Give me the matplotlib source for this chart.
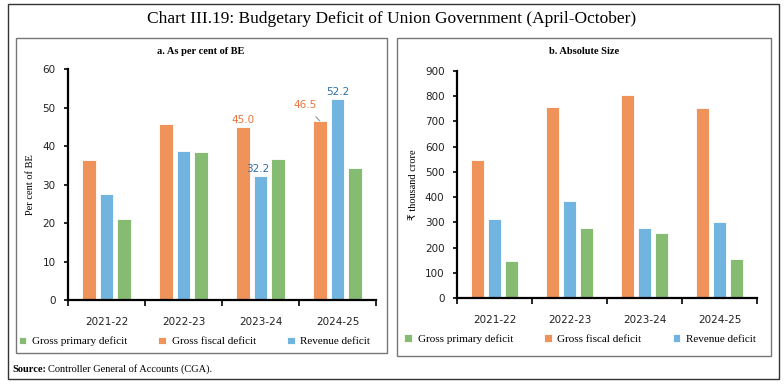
import numpy as np
import matplotlib.pyplot as plt
from matplotlib.patches import Rectangle

years = ['2021-22', '2022-23', '2023-24', '2024-25']

# a. per cent of BE
pct_fiscal = [36.3, 45.7, 45.0, 46.5]
pct_revenue = [27.5, 38.8, 32.2, 52.2]
pct_primary = [21.1, 38.5, 36.6, 34.3]

# b. absolute size (Rs thousand crore)
abs_fiscal = [547, 759, 805, 752]
abs_revenue = [314, 385, 279, 303]
abs_primary = [148, 277, 258, 154]

c_fiscal = '#F0935B'
c_revenue = '#72B4E0'
c_primary = '#86BC71'

serif = ['Liberation Serif', 'DejaVu Sans']

W, H = 784, 387
fig = plt.figure(figsize=(W / 100, H / 100), dpi=100)


def box(x0, y0, x1, y1, **kw):
    # pixel coords (top-left origin) -> figure rectangle
    fig.patches.append(Rectangle((x0 / W, 1 - y1 / H), (x1 - x0) / W, (y1 - y0) / H,
                                 transform=fig.transFigure, fill=False, **kw))


box(8, 4, 779, 379, edgecolor='#333333', lw=1.0)
box(16, 38, 387, 353, edgecolor='#777777', lw=1.0)
box(397, 38, 771, 356, edgecolor='#777777', lw=1.0)

fig.text(0.5, 1 - 19 / H, 'Chart III.19: Budgetary Deficit of Union Government (April-October)',
         ha='center', va='center', fontsize=12.5, family=serif)
fig.text(201 / W, 1 - 52 / H, 'a. As per cent of BE', ha='center', va='center',
         fontsize=7.5, fontweight='bold', family=serif)
fig.text(584 / W, 1 - 52 / H, 'b. Absolute Size', ha='center', va='center',
         fontsize=7.5, fontweight='bold', family=serif)
src = fig.text(12 / W, 1 - 369 / H, 'Source:', ha='left', va='center',
               fontsize=7.5, fontweight='bold', family=serif)
fig.canvas.draw()
bb = src.get_window_extent()
fig.text(bb.x1 / W + 2 / W, 1 - 369 / H, 'Controller General of Accounts (CGA).',
         ha='left', va='center', fontsize=7.5, family=serif)


def make_axes(rect, fiscal, revenue, primary, ymax, ystep, ylabel):
    ax = fig.add_axes(rect)
    x = np.arange(len(years))
    bw, off = 0.175, 0.225
    kw = dict(width=bw, edgecolor='white', linewidth=0.6)
    b_f = ax.bar(x - off, fiscal, color=c_fiscal, label='Gross fiscal deficit', **kw)
    b_r = ax.bar(x, revenue, color=c_revenue, label='Revenue deficit', **kw)
    b_p = ax.bar(x + off, primary, color=c_primary, label='Gross primary deficit', **kw)
    ax.set_xlim(-0.5, len(years) - 0.5)
    ax.set_ylim(0, ymax)
    ax.set_yticks(np.arange(0, ymax + 1, ystep))
    ax.set_xticks(np.arange(-0.5, len(years)), minor=False)
    ax.set_xticklabels([])
    ax.set_xticks(x, minor=True)
    ax.set_xticklabels(years, minor=True)
    ax.tick_params(axis='x', which='minor', length=0, pad=12, labelsize=7.5)
    ax.tick_params(axis='x', which='major', length=4, width=1.2, direction='out')
    ax.tick_params(axis='y', length=3, width=1.2, labelsize=7.5, pad=6)
    for s in ['top', 'right']:
        ax.spines[s].set_visible(False)
    for s in ['left', 'bottom']:
        ax.spines[s].set_linewidth(1.6)
    ax.set_ylabel(ylabel, fontsize=7.5, family=serif, labelpad=5)
    for lab in ax.get_yticklabels() + ax.get_xticklabels(minor=True):
        lab.set_color('#222222')
    handles = [b_p, b_f, b_r]
    ax.legend(handles, [h.get_label() for h in handles], loc='upper center',
              bbox_to_anchor=(0.41, -0.115), ncol=3, frameon=False,
              prop={'family': serif, 'size': 8}, handlelength=0.7,
              handleheight=0.7, columnspacing=2.8, handletextpad=0.5)
    return ax, x


axL, x = make_axes([68 / W, 1 - 300 / H, 308 / W, 231 / H],
                   pct_fiscal, pct_revenue, pct_primary, 60, 10, 'Per cent of BE')
axR, _ = make_axes([457 / W, 1 - 298 / H, 300 / W, 227 / H],
                   abs_fiscal, abs_revenue, abs_primary, 900, 100, '₹ thousand crore')

# data labels on panel a
lab_orange = '#E8743B'
lab_blue = '#2F6EA6'
axL.text(x[2] - 0.225, pct_fiscal[2] + 0.4, f'{pct_fiscal[2]:.1f}', ha='center', va='bottom',
         fontsize=7.5, color=lab_orange)
axL.text(x[2] - 0.03, pct_revenue[2] + 0.4, f'{pct_revenue[2]:.1f}', ha='center', va='bottom',
         fontsize=7.5, color=lab_blue)
axL.text(x[3], pct_revenue[3] + 0.4, f'{pct_revenue[3]:.1f}', ha='center', va='bottom',
         fontsize=7.5, color=lab_blue)
axL.annotate(f'{pct_fiscal[3]:.1f}', xy=(x[3] - 0.23, pct_fiscal[3]),
             xytext=(x[3] - 0.42, pct_fiscal[3] + 4.2), ha='center', va='center',
             fontsize=7.5, color=lab_orange,
             arrowprops=dict(arrowstyle='-', color='#999999', lw=0.8, shrinkA=4, shrinkB=0))

fig.savefig('out.png', dpi=100)
